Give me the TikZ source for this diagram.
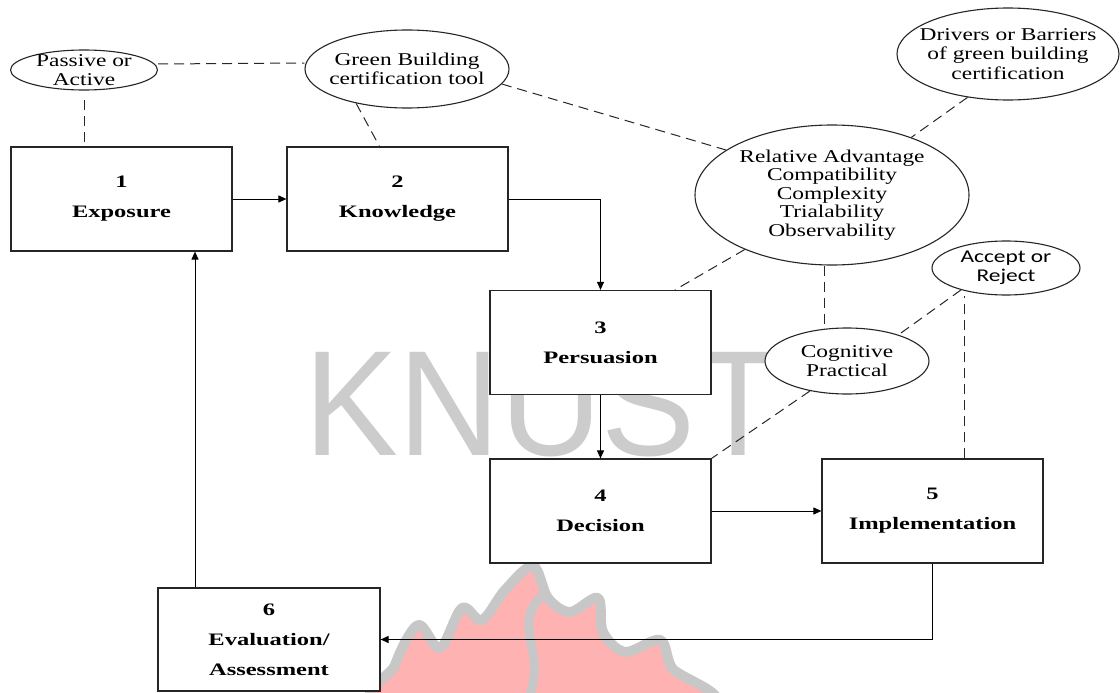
\documentclass[tikz,border=0pt]{standalone}
\usepackage{fontspec}
\setmainfont{Liberation Serif}[FakeStretch=1.3]
\newfontfamily\boxfont{Liberation Serif}[FakeStretch=1.4]
\newfontfamily\acceptfont{Carlito}[FakeStretch=1.3]
\newfontfamily\markfont{Liberation Sans}[FakeStretch=0.94]
\usetikzlibrary{shapes.geometric,arrows.meta,calc}
\pgfdeclarelayer{marks}
\pgfdeclarelayer{links}
\pgfsetlayers{marks,links,main}

\tikzset{
  stage/.style={draw=black!85, line width=1.2pt, fill=white,
    minimum width=221pt, minimum height=104pt, inner sep=0pt, align=center,
    font=\boxfont\bfseries\fontsize{17.5}{30}\selectfont},
  bubble/.style={ellipse, draw=black!85, line width=1.1pt, fill=white, inner sep=0pt},
  bubbletext/.style={align=center, inner sep=0pt, font=\fontsize{18}{19.5}\selectfont},
  flow/.style={draw=black, line width=1pt, -{Triangle[length=8pt,width=7pt]}},
  link/.style={draw=black!85, line width=1pt, dash pattern=on 10pt off 6pt},
}

\begin{document}
\begin{tikzpicture}[x=1pt,y=-1pt]
\useasboundingbox (0,0) rectangle (1120,693);

% --- the six stages of the decision process ---
\node[stage] (s1) at (121.5,199) {1\\Exposure};
\node[stage] (s2) at (397.5,199) {2\\Knowledge};
\node[stage] (s3) at (600.5,342.5) {3\\Persuasion};
\node[stage] (s4) at (600.5,511) {4\\Decision};
\node[stage] (s5) at (932.5,511) {5\\Implementation};
\node[stage, minimum width=222pt, minimum height=103pt] (s6) at (269,639.5) {6\\Evaluation/\\Assessment};

% --- attributes attached to the stages ---
\node[bubble, minimum width=147pt, minimum height=40pt] (passive) at (84,70) {};
\node[bubbletext] (passivetext) at (passive) {Passive or\\Active};
\node[bubble, minimum width=204pt, minimum height=78pt] (green) at (407,69) {};
\node[bubbletext] (greentext) at (green) {Green Building\\certification tool};
\node[bubble, minimum width=222pt, minimum height=92pt] (drivers) at (1008,54) {};
\node[bubbletext] (driverstext) at (drivers) {Drivers or Barriers\\of green building\\certification};
\node[bubble, minimum width=274pt, minimum height=140pt] (relative) at (832,195) {};
\node[bubbletext, font=\fontsize{18}{18.5}\selectfont] (relativetext) at (relative)
  {Relative Advantage\\Compatibility\\Complexity\\Trialability\\Observability};
\node[bubble, minimum width=148pt, minimum height=54pt] (accept) at (1006,268) {};
\node[bubbletext, font=\acceptfont\fontsize{18}{19}\selectfont] (accepttext) at (accept) {Accept or\\Reject};
\node[bubble, minimum width=164pt, minimum height=66pt] (cognitive) at (847,361) {};
\node[bubbletext] (cognitivetext) at (cognitive) {Cognitive\\Practical};

% --- process flow ---
\draw[flow] (s1) -- (s2);
\draw[flow] (s2.east) -| (s3.north);
\draw[flow] (s3) -- (s4);
\draw[flow] (s4) -- (s5);
\draw[flow] (s5.south) |- (s6.east);
\draw[flow] ([xshift=-74pt]s6.north) -- ([xshift=-74pt]s6.north |- s1.south);

% --- dashed associations ---
\begin{pgfonlayer}{links}
\draw[link] ([yshift=6pt]passive.east) -- ([yshift=6pt]green.west);
\draw[link] ([yshift=-9pt]passive.south) -- (passive.south |- s1.north);
\draw[link] (green.214) -- ([xshift=-18pt]s2.north);
\draw[link] (green.-9) -- (relative.157);
\draw[link] (drivers.227) -- (relative.36);
\draw[link] (relative.212) -- ($(s3.north)!0.67!(s3.north east)$);
\draw[link] ([xshift=-8pt]relative.south) -- ([xshift=-8pt]relative.south |- cognitive.north);
\draw[link] (accept.206) -- (cognitive.27);
\draw[link] (cognitive.219) -- (s4.north east);
\draw[link] ([xshift=32pt]s5.north) -- ([xshift=32pt]s5.north |- accept.south);
\end{pgfonlayer}

% --- watermark: lettering and flame ---
\begin{pgfonlayer}{marks}
\node[anchor=base west, inner sep=0pt, text=black!20,
  font=\markfont\fontsize{150}{150}\selectfont] (kmark) at (304,455) {KNUST};
\filldraw[fill=red!30!white, draw=black!22, line width=10pt, line join=round]
  plot[smooth cycle, tension=0.55] coordinates {
    (390,705) (395,665) (418,625) (440,648) (462,608) (482,620) (505,590)
    (533,566) (548,598) (570,612) (598,598) (603,632) (625,652) (660,640)
    (672,668) (702,705)};
\draw[black!22, line width=9pt, line cap=round]
  (540,598) .. controls (512,628) and (548,652) .. (528,700);
\end{pgfonlayer}
\end{tikzpicture}
\end{document}
